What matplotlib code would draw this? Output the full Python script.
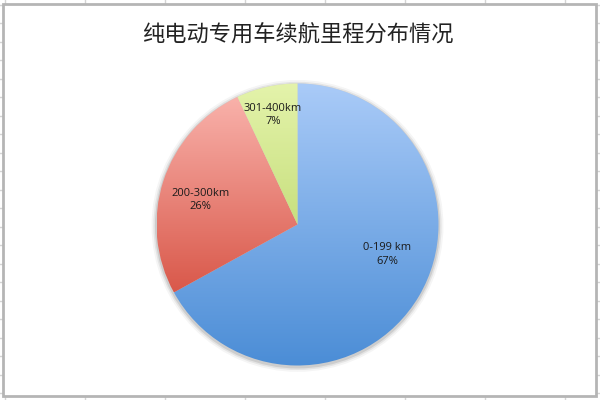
import numpy as np
import matplotlib
matplotlib.use("Agg")
import matplotlib.pyplot as plt
from matplotlib.patches import Rectangle, Circle
from matplotlib.colors import LinearSegmentedColormap

plt.rcParams['font.family'] = ['Noto Sans CJK SC', 'DejaVu Sans']

# data
title = "纯电动专用车续航里程分布情况"
categories = ["0-199 km", "200-300km", "301-400km"]
shares = [67, 26, 7]

# gradient colours (top, bottom) for each slice
grad_colors = [("#aacbf8", "#4b8dd6"),
               ("#f9b2ab", "#d9584a"),
               ("#e4f3ab", "#c8e07f")]
# label placement: radial distance and angle nudge (degrees)
label_dist = [0.67, 0.71, 0.795]
label_nudge = [12, 4, 0]

fig = plt.figure(figsize=(6, 4), dpi=100)

# spreadsheet grid behind the chart frame
bg = fig.add_axes([0, 0, 1, 1])
bg.set_xlim(0, 600)
bg.set_ylim(400, 0)
bg.axis("off")
for x in np.arange(4.5, 600, 80):
    bg.axvline(x, color="#d4d4d4", lw=1)
for y in np.arange(4.5, 400, 18.5):
    bg.axhline(y, color="#d4d4d4", lw=1)
bg.add_patch(Rectangle((3, 4), 593, 392, facecolor="white",
                       edgecolor="#b5b5b5", lw=2, zorder=3))

fig.text(0.496, 0.912, title, ha="center", va="center",
         fontsize=16, color="#222222")

# pie: centre ~(297.5, 224.5) px, radius ~141 px
lim = 1.08
side = 2 * 141 * lim
cx, cy = 297.5, 400 - 224.5
ax = fig.add_axes([(cx - side / 2) / 600, (cy - side / 2) / 400,
                   side / 600, side / 400])
wedges, _ = ax.pie(shares, startangle=90, counterclock=False, radius=1,
                   wedgeprops=dict(linewidth=0))
ax.set_aspect("equal")
ax.axis("off")

# soft shadow
for r, a in [(1.035, 0.06), (1.022, 0.10), (1.011, 0.16)]:
    ax.add_patch(Circle((0, -0.01), r, facecolor="#555555", alpha=a,
                        edgecolor="none", zorder=0))

for w, (c_top, c_bot) in zip(wedges, grad_colors):
    w.set_facecolor("none")
    verts = w.get_path().vertices
    y0, y1 = verts[:, 1].min(), verts[:, 1].max()
    cmap = LinearSegmentedColormap.from_list("g", [c_bot, c_top])
    grad = np.linspace(0, 1, 256).reshape(-1, 1)
    im = ax.imshow(grad, cmap=cmap, origin="lower", aspect="auto",
                   extent=(-1, 1, y0, y1), zorder=1)
    im.set_clip_path(w)

for w, name, pct, d, n in zip(wedges, categories, shares, label_dist, label_nudge):
    mid = np.deg2rad((w.theta1 + w.theta2) / 2 + n)
    ax.text(d * np.cos(mid), d * np.sin(mid), f"{name}\n{pct}%",
            ha="center", va="center", fontsize=8, color="#1a1a1a",
            family=["Open Sans", "DejaVu Sans"], linespacing=1.3, zorder=5)

ax.set_xlim(-lim, lim)
ax.set_ylim(-lim, lim)

fig.savefig("out.png", dpi=100)
